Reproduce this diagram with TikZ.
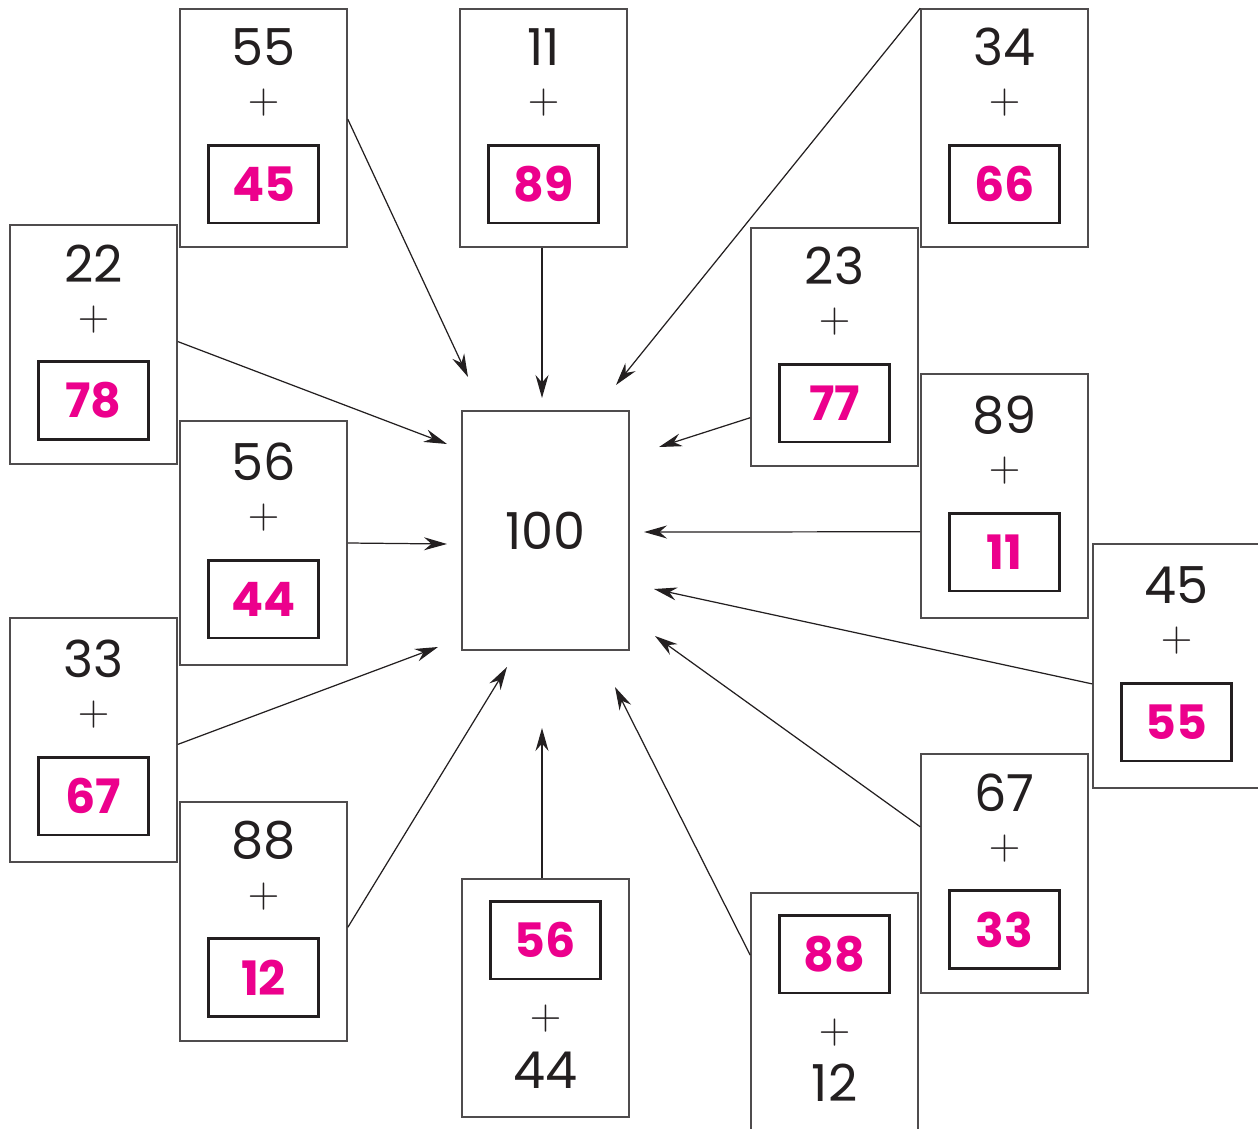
\documentclass[tikz,border=0pt]{standalone}
\usepackage{fontspec}
\setmainfont{Poppins}
\usepackage{xcolor}
\usepackage{tikz}
\usetikzlibrary{arrows.meta,positioning,calc}
\definecolor{Ink}{HTML}{231F20}
\definecolor{Magenta}{HTML}{EC008C}
\tikzset{
  card/.style={draw=Ink!80,line width=0.9pt,fill=white,minimum width=3.34cm,inner sep=0},
  addend/.style={font=\fontsize{29}{30}\selectfont,text=Ink,inner sep=0},
  plus/.style={font=\fontsize{30}{30}\selectfont,text=Ink,inner sep=0},
  answer/.style={draw=Ink,line width=1.7pt,minimum width=2.2cm,minimum height=1.56cm,inner sep=0,font=\fontsize{27}{28}\selectfont\bfseries,text=Magenta},
  arrow/.style={-{Stealth[length=4.6mm,width=2.6mm]},line width=0.7pt,draw=Ink}
}

\begin{document}
\begin{tikzpicture}[x=0.02cm,y=-0.02cm]
  \useasboundingbox (0,0) rectangle (1258,1129);
  \clip (0,0) rectangle (1258,1129);
  \node[card,minimum height=4.78cm,addend] (sum) at (545.5,530.5) {100};
  \foreach \nm/\x/\y/\hh/\first/\ans in {
      c1/263.5/128/4.76/55/45, c2/543.5/128/4.76/11/89, c3/1004.5/128/4.76/34/66,
      c4/93.5/344.5/4.78/22/78, c5/834.5/347/4.76/23/77, c6/263.5/543/4.88/56/44,
      c7/1004.5/496/4.88/89/11, c8/1176.5/666/4.88/45/55, c9/93.5/740/4.88/33/67,
      c10/1004.5/873.5/4.78/67/33, c11/263.5/921.5/4.78/88/12}{
    \node[card,minimum height=\hh cm] (\nm) at (\x,\y) {};
    \node[addend] (\nm-a) at (\x,\y-81) {\first};
    \node[plus] (\nm-p) at (\x,\y-25) {$+$};
    \node[answer] (\nm-b) at (\x,\y+56) {\ans};
  }
  \node[card,minimum height=4.76cm] (c12) at (545.5,998) {};
  \node[answer] (c12-b) at (545.5,940) {56};
  \node[plus] (c12-p) at (545.5,1019) {$+$};
  \node[addend] (c12-a) at (545.5,1070) {44};
  \node[card,minimum height=4.76cm] (c13) at (834.5,1012) {};
  \node[answer] (c13-b) at (834.5,954) {88};
  \node[plus] (c13-p) at (834.5,1033) {$+$};
  \node[addend] (c13-a) at (834.5,1083) {12};
  \coordinate (t1) at (468,377);
  \coordinate (t2) at (542,398);
  \coordinate (t3) at (616,385);
  \coordinate (t4) at (447,444);
  \coordinate (t5) at (659,447);
  \coordinate (t6) at (447,544);
  \coordinate (t7) at (644,532);
  \coordinate (t8) at (654,589);
  \coordinate (t9) at (438,647);
  \coordinate (t10) at (655,636);
  \coordinate (t11) at (507,667);
  \coordinate (t12) at (542,728);
  \coordinate (t13) at (615,687);
  \draw[arrow] (c1.6) -- (t1);
  \draw[arrow] (c2.south -| t2) -- (t2);
  \draw[arrow] (c3.north west) -- (t3);
  \draw[arrow] (c4.2) -- (t4);
  \draw[arrow] (c5.220) -- (t5);
  \draw[arrow] (c6.east) -- (t6);
  \draw[arrow] (c7.203) -- (t7);
  \draw[arrow] (c8.192) -- (t8);
  \draw[arrow] (c9.357) -- (t9);
  \draw[arrow] (c10.151) -- (t10);
  \draw[arrow] (c11.356) -- (t11);
  \draw[arrow] (c12.north -| t12) -- (t12);
  \draw[arrow] (c13.146) -- (t13);
\end{tikzpicture}
\end{document}
